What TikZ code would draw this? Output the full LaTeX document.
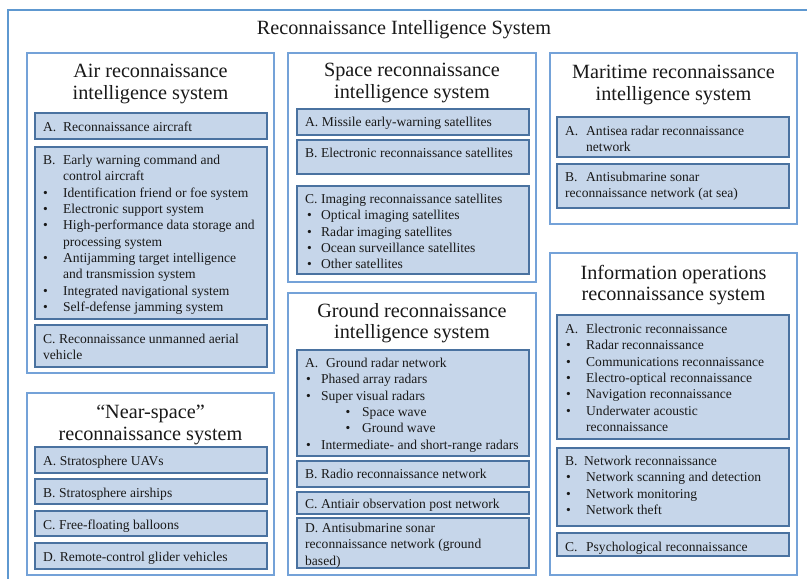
\documentclass[tikz,border=0pt]{standalone}
\usepackage{fontspec}
\setmainfont{Liberation Serif}
\definecolor{subfill}{HTML}{C6D6EA}
\definecolor{subdraw}{HTML}{4A72A0}
\definecolor{catdraw}{HTML}{74A2D8}
\definecolor{outerdraw}{HTML}{5E98D0}
\newcommand{\ttlfont}{\fontsize{20.3}{22}\selectfont}
\newcommand{\smlfont}{\fontsize{13.6}{16.4}\selectfont}
\newcommand{\bul}{\textbullet}
\begin{document}
\begin{tikzpicture}[x=1bp,y=-1bp,
  outerbox/.style={draw=outerdraw,line width=2bp},
  catbox/.style={draw=catdraw,line width=1.8bp,fill=white},
  subbox/.style={draw=subdraw,line width=2bp,fill=subfill},
  ttl/.style={inner sep=0pt,anchor=base,font=\ttlfont,text=black!90},
  txt/.style={inner sep=0pt,anchor=base west,font=\smlfont,text=black!90}]
\useasboundingbox (0,0) rectangle (807,579);
\begin{scope}
\clip (0,0) rectangle (807,579);
\draw[outerbox] (8,10) rectangle (830,600);
\end{scope}
\node[ttl] (title) at (404,35) {Reconnaissance Intelligence System};

% ---------- category boxes
\draw[catbox] (27,53) rectangle (274,373);
\draw[catbox] (27,393) rectangle (274,575);
\draw[catbox] (288,53) rectangle (536,282);
\draw[catbox] (288,293) rectangle (536,575);
\draw[catbox] (550,53) rectangle (797,224);
\draw[catbox] (550,253) rectangle (797,575);

% ---------- titles
\node[ttl] (airT) at (150.5,78) {\begin{tabular}[t]{@{}c@{}}Air reconnaissance\\intelligence system\end{tabular}};
\node[ttl] (nearT) at (150.5,418.5) {\begin{tabular}[t]{@{}c@{}}“Near-space”\\reconnaissance system\end{tabular}};
\node[ttl] (spaceT) at (412,77) {\begin{tabular}[t]{@{}c@{}}Space reconnaissance\\intelligence system\end{tabular}};
\node[ttl] (groundT) at (412,317) {\begin{tabular}[t]{@{}c@{}}Ground reconnaissance\\intelligence system\end{tabular}};
\node[ttl] (marT) at (673.5,79) {\begin{tabular}[t]{@{}c@{}}Maritime reconnaissance\\intelligence system\end{tabular}};
\node[ttl] (infoT) at (673.5,279) {\begin{tabular}[t]{@{}c@{}}Information operations\\reconnaissance system\end{tabular}};

% ---------- sub boxes
\draw[subbox] (35,113) rectangle (267,139);
\draw[subbox] (35,147) rectangle (267,319);
\draw[subbox] (35,325) rectangle (267,367);
\draw[subbox] (35,447) rectangle (267,473);
\draw[subbox] (35,479) rectangle (267,504);
\draw[subbox] (35,511) rectangle (267,536);
\draw[subbox] (35,543) rectangle (267,569);
\draw[subbox] (297,109) rectangle (529,135);
\draw[subbox] (297,140) rectangle (529,174);
\draw[subbox] (297,186) rectangle (529,274);
\draw[subbox] (297,350) rectangle (529,456);
\draw[subbox] (297,461) rectangle (529,487);
\draw[subbox] (297,492) rectangle (529,514);
\draw[subbox] (297,518) rectangle (529,568);
\draw[subbox] (557,117) rectangle (789,157);
\draw[subbox] (557,164) rectangle (789,208);
\draw[subbox] (557,315) rectangle (789,439);
\draw[subbox] (557,448) rectangle (789,526);
\draw[subbox] (557,533) rectangle (789,556);

% ---------- Air
\node[txt] (airA) at (43,131.5) {\begin{tabular}[t]{@{}p{20bp}@{}l@{}}A. & Reconnaissance aircraft\end{tabular}};
\node[txt] (airB) at (43,164.5) {\begin{tabular}[t]{@{}p{20bp}@{}l@{}}
B. & Early warning command and\\
   & control aircraft\\
\bul & Identification friend or foe system\\
\bul & Electronic support system\\
\bul & High-performance data storage and\\
   & processing system\\
\bul & Antijamming target intelligence\\
   & and transmission system\\
\bul & Integrated navigational system\\
\bul & Self-defense jamming system
\end{tabular}};
\node[txt] (airC) at (43,343.5) {\begin{tabular}[t]{@{}l@{}}C. Reconnaissance unmanned aerial\\vehicle\end{tabular}};

% ---------- Near-space
\node[txt] (nearA) at (43,465.5) {A. Stratosphere UAVs};
\node[txt] (nearB) at (43,497.5) {B. Stratosphere airships};
\node[txt] (nearC) at (43,529.5) {C. Free-floating balloons};
\node[txt] (nearD) at (43,561.5) {D. Remote-control glider vehicles};

% ---------- Space
\node[txt] (spaceA) at (305,126.5) {A. Missile early-warning satellites};
\node[txt] (spaceB) at (305,157.5) {B. Electronic reconnaissance satellites};
\node[txt] (spaceC) at (305,203.5) {\begin{tabular}[t]{@{}p{16bp}@{}l@{}}
\multicolumn{2}{@{}l@{}}{C. Imaging reconnaissance satellites}\\
\hspace*{2bp}\bul & Optical imaging satellites\\
\hspace*{2bp}\bul & Radar imaging satellites\\
\hspace*{2bp}\bul & Ocean surveillance satellites\\
\hspace*{2bp}\bul & Other satellites
\end{tabular}};

% ---------- Ground
\node[txt] (groundA) at (305,367.5) {\begin{tabular}[t]{@{}p{16bp}@{}l@{}}
\multicolumn{2}{@{}l@{}}{\makebox[21bp][l]{A.}Ground radar network}\\
\hspace*{1bp}\bul & Phased array radars\\
\hspace*{1bp}\bul & Super visual radars\\
  & \hspace*{24.5bp}\makebox[16.5bp][l]{\bul}Space wave\\
  & \hspace*{24.5bp}\makebox[16.5bp][l]{\bul}Ground wave\\
\hspace*{1bp}\bul & Intermediate- and short-range radars
\end{tabular}};
\node[txt] (groundB) at (305,478.5) {B. Radio reconnaissance network};
\node[txt] (groundC) at (305,508.5) {C. Antiair observation post network};
\node[txt] (groundD) at (305,532.5) {\begin{tabular}[t]{@{}l@{}}D. Antisubmarine sonar\\reconnaissance network (ground\\based)\end{tabular}};

% ---------- Maritime
\node[txt] (marA) at (565,135.5) {\begin{tabular}[t]{@{}p{21bp}@{}l@{}}A. & Antisea radar reconnaissance\\ & network\end{tabular}};
\node[txt] (marB) at (565,181.5) {\begin{tabular}[t]{@{}l@{}}\makebox[21bp][l]{B.}Antisubmarine sonar\\reconnaissance network (at sea)\end{tabular}};

% ---------- Information operations
\node[txt] (infoA) at (565,333.5) {\begin{tabular}[t]{@{}p{21bp}@{}l@{}}
A. & Electronic reconnaissance\\
\hspace*{1bp}\bul & Radar reconnaissance\\
\hspace*{1bp}\bul & Communications reconnaissance\\
\hspace*{1bp}\bul & Electro-optical reconnaissance\\
\hspace*{1bp}\bul & Navigation reconnaissance\\
\hspace*{1bp}\bul & Underwater acoustic\\
   & reconnaissance
\end{tabular}};
\node[txt] (infoB) at (565,465.5) {\begin{tabular}[t]{@{}p{21bp}@{}l@{}}
\multicolumn{2}{@{}l@{}}{\makebox[19bp][l]{B.}Network reconnaissance}\\
\hspace*{1bp}\bul & Network scanning and detection\\
\hspace*{1bp}\bul & Network monitoring\\
\hspace*{1bp}\bul & Network theft
\end{tabular}};
\node[txt] (infoC) at (565,551.5) {\begin{tabular}[t]{@{}p{21bp}@{}l@{}}C. & Psychological reconnaissance\end{tabular}};
\end{tikzpicture}
\end{document}
